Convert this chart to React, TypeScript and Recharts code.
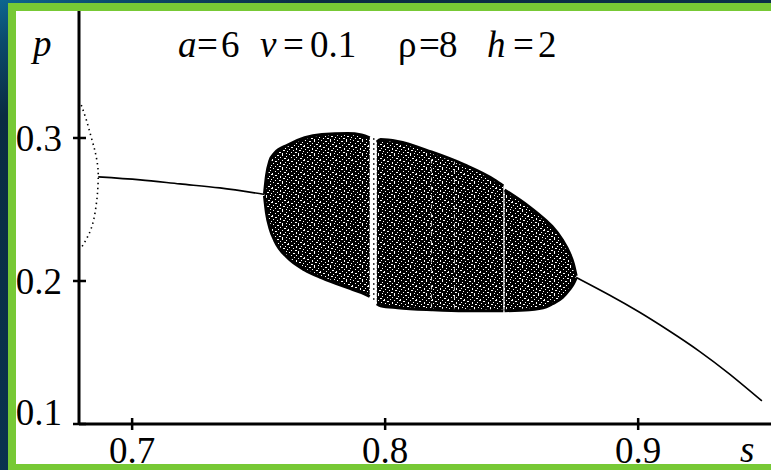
import { Area, ComposedChart, Line, XAxis, YAxis } from "recharts";

// stable fixed point left of the chaotic band
const leftBranch = [
  { s: 0.6866, p: 0.2728 },
  { s: 0.7032, p: 0.2707 },
  { s: 0.7189, p: 0.2679 },
  { s: 0.7347, p: 0.2651 },
  { s: 0.7524, p: 0.2605 },
];

// period-2 orbit after the flip, top to bottom
const flipBranch = [
  { s: 0.6799, p: 0.323 },
  { s: 0.6819, p: 0.3126 },
  { s: 0.6838, p: 0.3007 },
  { s: 0.6854, p: 0.2902 },
  { s: 0.6864, p: 0.2804 },
  { s: 0.6866, p: 0.2728 },
  { s: 0.6864, p: 0.2637 },
  { s: 0.6858, p: 0.2532 },
  { s: 0.6846, p: 0.2413 },
  { s: 0.6826, p: 0.2316 },
  { s: 0.6799, p: 0.2232 },
];

// stable fixed point right of the chaotic band
const rightBranch = [
  { s: 0.8755, p: 0.2025 },
  { s: 0.8886, p: 0.1902 },
  { s: 0.9004, p: 0.1783 },
  { s: 0.9122, p: 0.1652 },
  { s: 0.9241, p: 0.151 },
  { s: 0.9359, p: 0.1352 },
  { s: 0.9489, p: 0.1161 },
];

// chaotic attractor envelope [min p, max p], split by the periodic windows
const chaosA = [
  { s: 0.7523, band: [0.2595, 0.2609] },
  { s: 0.7531, band: [0.2476, 0.2737] },
  { s: 0.7544, band: [0.2372, 0.2839] },
  { s: 0.7564, band: [0.2281, 0.2895] },
  { s: 0.7615, band: [0.2162, 0.2951] },
  { s: 0.7682, band: [0.2078, 0.3002] },
  { s: 0.775, band: [0.2022, 0.3024] },
  { s: 0.7852, band: [0.1953, 0.3031] },
  { s: 0.7907, band: [0.1918, 0.3021] },
  { s: 0.7939, band: [0.1892, 0.3] },
];

const chaosB = [
  { s: 0.7967, band: [0.1841, 0.2972] },
  { s: 0.7982, band: [0.1827, 0.2989] },
  { s: 0.8049, band: [0.1813, 0.2976] },
  { s: 0.8183, band: [0.1799, 0.2902] },
  { s: 0.8314, band: [0.1792, 0.2812] },
  { s: 0.8432, band: [0.1792, 0.2707] },
  { s: 0.8467, band: [0.1792, 0.2665] },
];

const chaosC = [
  { s: 0.8472, band: [0.1792, 0.2637] },
  { s: 0.857, band: [0.1799, 0.2518] },
  { s: 0.8637, band: [0.182, 0.242] },
  { s: 0.8661, band: [0.1841, 0.2379] },
  { s: 0.87, band: [0.1883, 0.2288] },
  { s: 0.8728, band: [0.1939, 0.2197] },
  { s: 0.8744, band: [0.198, 0.212] },
  { s: 0.8755, band: [0.2022, 0.2036] },
];

// orbit points inside the wide periodic window
const windowOrbit = [
  { s: 0.7955, p: 0.1868 },
  { s: 0.7955, p: 0.2998 },
];

// narrow windows showing as faint light streaks
const streakA = [
  { s: 0.8183, p: 0.1815 },
  { s: 0.8183, p: 0.2885 },
];
const streakB = [
  { s: 0.8274, p: 0.1808 },
  { s: 0.8274, p: 0.2835 },
];

const sTicks = [0.7, 0.8, 0.9];
const pTicks = [0.1, 0.2, 0.3];
const paramNames = ["a", "v", "ρ", "h"];
const paramValues = ["6", "0.1", "8", "2"];

// x of symbol, "=" and value for each parameter in the header
const paramX = [
  [178, 197, 221],
  [260, 283, 310],
  [398, 419, 439],
  [487, 513, 538],
];

const FONT = "'Liberation Serif', 'Times New Roman', serif";
const FS = 37;
const textStyle = { fontFamily: FONT, fontSize: FS };

const YTick = ({ x, y, payload }: any) => (
  <g>
    <line x1={x - 6} x2={x + 7} y1={y} y2={y} stroke="#000" strokeWidth={2.5} />
    <text x={x - 17} y={payload.value === 0.1 ? y + 1 : y + 13} textAnchor="end" style={textStyle} fill="#000">
      {payload.value.toFixed(1)}
    </text>
  </g>
);

const XTick = ({ x, y, payload }: any) => (
  <g>
    <line x1={x} x2={x} y1={y - 6} y2={y + 6} stroke="#000" strokeWidth={2.5} />
    <text x={x} y={y + 39} textAnchor="middle" style={textStyle} fill="#000">
      {payload.value.toFixed(1)}
    </text>
  </g>
);

// irregular light specks for the chaotic region
const specks = [
  [1, 0, 1, 1], [5, 1, 2, 1], [10, 0, 1, 2], [14, 2, 1, 1], [3, 3, 1, 1],
  [8, 3, 1, 1], [12, 4, 2, 1], [0, 5, 1, 2], [6, 5, 1, 1], [10, 6, 1, 1],
  [15, 6, 1, 1], [3, 7, 2, 1], [8, 8, 1, 2], [13, 8, 1, 1], [1, 9, 1, 1],
  [5, 10, 1, 1], [11, 10, 2, 1], [15, 11, 1, 1], [3, 12, 1, 1], [7, 12, 2, 1],
  [10, 13, 1, 1], [14, 13, 1, 1],
];

const W = 771;
const H = 470;

export default function App() {
  return (
    <div
      style={{
        position: "absolute",
        left: 0,
        top: 0,
        width: W,
        height: H,
        overflow: "hidden",
        background: "linear-gradient(160deg, #0d6690 0px, #0b4a6c 40px, #0a2c42 110px, #0a3350 470px)",
      }}
    >
      <div style={{ position: "absolute", left: 16, top: 11, width: W - 16, height: 453, background: "#fff" }} />

      <ComposedChart
        width={W}
        height={H}
        margin={{ top: 11, right: 0, bottom: 0, left: 0 }}
        style={{ position: "absolute", left: 0, top: 0 }}
      >
        <defs>
          <pattern id="speckle" width="16" height="14" patternUnits="userSpaceOnUse">
            <rect width="16" height="14" fill="#000" />
            {specks.map(([x, y, w, h], i) => (
              <rect key={i} x={x} y={y} width={w} height={h} fill="#fff" shapeRendering="crispEdges" />
            ))}
          </pattern>
        </defs>
        <XAxis
          type="number"
          dataKey="s"
          domain={[0.679, 0.9525]}
          ticks={sTicks}
          allowDataOverflow
          height={46}
          tickLine={false}
          tickSize={0}
          tickMargin={0}
          axisLine={{ stroke: "#000", strokeWidth: 3 }}
          tick={<XTick />}
        />
        <YAxis
          type="number"
          dataKey="p"
          domain={[0.1, 0.3888]}
          ticks={pTicks}
          allowDataOverflow
          width={79}
          tickLine={false}
          tickSize={0}
          tickMargin={0}
          axisLine={{ stroke: "#000", strokeWidth: 3 }}
          tick={<YTick />}
        />
        {[chaosA, chaosB, chaosC].map((d, i) => (
          <Area
            key={i}
            data={d}
            dataKey="band"
            type="monotone"
            fill="url(#speckle)"
            fillOpacity={1}
            stroke="#000"
            strokeWidth={3}
            isAnimationActive={false}
            activeDot={false}
          />
        ))}
        {[streakA, streakB].map((d, i) => (
          <Line
            key={i}
            data={d}
            dataKey="p"
            stroke="#fff"
            strokeWidth={1}
            strokeDasharray="4 5"
            strokeOpacity={0.8}
            dot={false}
            isAnimationActive={false}
          />
        ))}
        <Line
          data={windowOrbit}
          dataKey="p"
          stroke="#000"
          strokeWidth={1.5}
          strokeDasharray="1.5 3.5"
          dot={false}
          isAnimationActive={false}
        />
        <Line
          data={leftBranch}
          dataKey="p"
          type="monotone"
          stroke="#000"
          strokeWidth={1.6}
          dot={false}
          isAnimationActive={false}
        />
        <Line
          data={flipBranch}
          dataKey="p"
          type="natural"
          stroke="#000"
          strokeWidth={1.6}
          strokeDasharray="1.4 3.6"
          dot={false}
          isAnimationActive={false}
        />
        <Line
          data={rightBranch}
          dataKey="p"
          type="natural"
          stroke="#000"
          strokeWidth={1.6}
          dot={false}
          isAnimationActive={false}
        />
      </ComposedChart>

      <svg width={W} height={H} style={{ position: "absolute", left: 0, top: 0, pointerEvents: "none" }}>
        <text x={33} y={56} style={{ ...textStyle, fontStyle: "italic" }} fill="#000">
          p
        </text>
        <text x={740} y={462} style={{ ...textStyle, fontStyle: "italic" }} fill="#000">
          s
        </text>
        {paramNames.map((name, i) => {
          const [xn, xe, xv] = paramX[i];
          return (
            <g key={name}>
              <text x={xn} y={57} style={{ ...textStyle, fontStyle: name === "ρ" ? "normal" : "italic" }} fill="#000">
                {name}
              </text>
              <text x={xe} y={57} style={textStyle} fill="#000">
                =
              </text>
              <text x={xv} y={57} style={textStyle} fill="#000">
                {paramValues[i]}
              </text>
            </g>
          );
        })}
      </svg>

      <div style={{ position: "absolute", left: 8, top: 3, width: W - 8, height: 8, background: "#77c935" }} />
      <div style={{ position: "absolute", left: 8, top: 3, width: 8, height: H - 3, background: "#77c935" }} />
      <div style={{ position: "absolute", left: 8, top: 464, width: W - 8, height: 6, background: "#77c935" }} />
    </div>
  );
}
